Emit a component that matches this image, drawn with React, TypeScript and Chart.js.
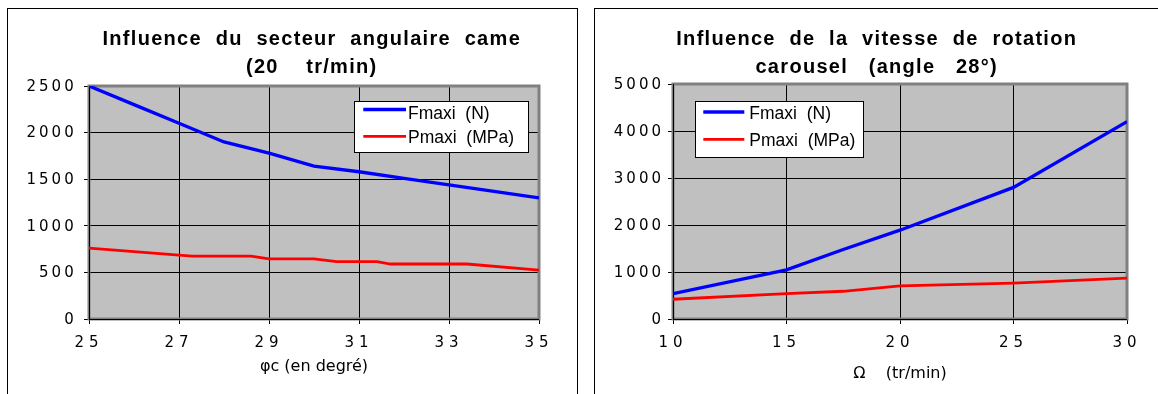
import React, { useEffect, useRef } from 'react';
import { Chart, registerables, LinearScale } from 'chart.js';

Chart.register(...registerables);

// ---------------- data ----------------
const seriesLabels = ['Fmaxi  (N)', 'Pmaxi  (MPa)'];

// left chart: influence of cam angular sector (20 tr/min)
const angleFmaxiX = [25, 26, 27, 28, 29, 30, 31, 32, 33, 34, 35];
const angleFmaxi = [2500, 2300, 2100, 1900, 1780, 1640, 1580, 1510, 1440, 1370, 1300];
const anglePmaxiX = [25, 27, 27.3, 28.6, 29, 30, 30.5, 31.4, 31.7, 33.4, 35];
const anglePmaxi = [760, 685, 675, 675, 645, 645, 615, 615, 590, 590, 525];
const angleXTicks = [25, 27, 29, 31, 33, 35];
const angleYTicks = [0, 500, 1000, 1500, 2000, 2500];
const angleTitle = ['Influence  du  secteur  angulaire  came', '(20    tr/min)'];
const angleXTitle = 'φc (en degré)';

// right chart: influence of carousel rotation speed (angle 28°)
const speedX = [10, 15, 17.5, 20, 25, 30];
const speedFmaxi = [540, 1045, 1480, 1890, 2800, 4200];
const speedPmaxi = [420, 540, 590, 705, 765, 870];
const speedXTicks = [10, 15, 20, 25, 30];
const speedYTicks = [0, 1000, 2000, 3000, 4000, 5000];
const speedTitle = ['Influence  de  la  vitesse  de  rotation', 'carousel   (angle   28°)'];
const speedXTitle = 'Ω    (tr/min)';

// ---------------- styles ----------------
const TITLE_FONT = '"Liberation Sans", Arial, sans-serif';
const AXIS_FONT = '"DejaVu Sans", Verdana, sans-serif';
const BLUE = '#0000FF';
const RED = '#FF0000';
const TITLE_SPACING = '1.3px';
const X_TICK_SPACING = '5px';
const Y_TICK_SPACING = '3px';

class SpacedLinearScale extends (LinearScale as any) {
  _computeLabelArea() {
    return undefined;
  }
  drawLabels(chartArea: any) {
    const ctx = (this as any).ctx;
    ctx.save();
    ctx.letterSpacing = (this as any).isHorizontal() ? X_TICK_SPACING : Y_TICK_SPACING;
    super.drawLabels(chartArea);
    ctx.restore();
  }
  drawTitle() {
    const ctx = (this as any).ctx;
    ctx.save();
    ctx.letterSpacing = '0px';
    super.drawTitle();
    ctx.restore();
  }
}
(SpacedLinearScale as any).id = 'spacedLinear';
(SpacedLinearScale as any).defaults = (LinearScale as any).defaults;
Chart.register(SpacedLinearScale as any);

const plotAreaPlugin = {
  id: 'plotArea',
  beforeDraw(chart: any) {
    const { ctx, chartArea: a } = chart;
    ctx.save();
    ctx.fillStyle = '#C0C0C0';
    ctx.fillRect(a.left, a.top, a.right - a.left, a.bottom - a.top);
    ctx.restore();
    ctx.letterSpacing = TITLE_SPACING;
  },
  beforeDatasetsDraw(chart: any) {
    const { ctx, chartArea: a } = chart;
    ctx.save();
    ctx.strokeStyle = '#808080';
    ctx.lineWidth = 3;
    ctx.strokeRect(a.left, a.top, a.right - a.left, a.bottom - a.top);
    ctx.strokeStyle = '#000';
    ctx.lineWidth = 1;
    ctx.beginPath();
    const lx = Math.round(a.left) + 0.5;
    const by = Math.round(a.bottom) + 0.5;
    ctx.moveTo(lx, a.top);
    ctx.lineTo(lx, a.bottom);
    ctx.moveTo(a.left, by);
    ctx.lineTo(a.right, by);
    ctx.stroke();
    ctx.restore();
  },
  afterDraw(chart: any) {
    chart.ctx.letterSpacing = '0px';
  },
};

function makeLegendPlugin(lay: any) {
  return {
    id: 'boxLegend',
    afterDraw(chart: any) {
      const { ctx, chartArea: a } = chart;
      const bx = Math.round(a.left + lay.left);
      const by = Math.round(a.top + lay.top);
      ctx.save();
      ctx.letterSpacing = '0px';
      ctx.fillStyle = '#FFFFFF';
      ctx.fillRect(bx, by, lay.width, lay.height);
      ctx.strokeStyle = '#000';
      ctx.lineWidth = 1;
      ctx.strokeRect(bx + 0.5, by + 0.5, lay.width - 1, lay.height - 1);
      ctx.font = `17.5px ${TITLE_FONT}`;
      ctx.textAlign = 'left';
      ctx.textBaseline = 'alphabetic';
      chart.data.datasets.forEach((ds: any, i: number) => {
        const row = lay.rows[i];
        ctx.strokeStyle = ds.borderColor;
        ctx.lineWidth = ds.borderWidth;
        ctx.lineCap = 'butt';
        ctx.beginPath();
        ctx.moveTo(bx + lay.lineFrom, by + row.lineY);
        ctx.lineTo(bx + lay.lineTo, by + row.lineY);
        ctx.stroke();
        ctx.fillStyle = '#000';
        ctx.fillText(ds.label, bx + lay.textX, by + row.textY);
      });
      ctx.restore();
    },
  };
}

function buildConfig(p: any) {
  return {
    type: 'line',
    data: {
      datasets: [
        {
          label: seriesLabels[0],
          data: p.fX.map((x: number, i: number) => ({ x, y: p.f[i] })),
          borderColor: BLUE,
          backgroundColor: BLUE,
          borderWidth: 3.3,
          pointRadius: 0,
          pointHoverRadius: 0,
          tension: 0,
          fill: false,
        },
        {
          label: seriesLabels[1],
          data: p.pX.map((x: number, i: number) => ({ x, y: p.p[i] })),
          borderColor: RED,
          backgroundColor: RED,
          borderWidth: 2.8,
          pointRadius: 0,
          pointHoverRadius: 0,
          tension: 0,
          fill: false,
        },
      ],
    },
    options: {
      responsive: false,
      animation: false,
      devicePixelRatio: 1,
      events: [],
      layout: { padding: { left: p.padLeft, right: p.padRight, top: 0, bottom: 0 } },
      plugins: {
        legend: { display: false },
        tooltip: { enabled: false },
        title: {
          display: true,
          text: p.title,
          color: '#000',
          align: 'center',
          font: { family: TITLE_FONT, size: 20, weight: 'bold', lineHeight: 1.365 },
          padding: { top: 17.2, bottom: p.titlePadBottom },
        },
      },
      scales: {
        x: {
          type: 'spacedLinear',
          position: 'bottom',
          min: p.xTicks[0],
          max: p.xTicks[p.xTicks.length - 1],
          afterBuildTicks: (s: any) => {
            s.ticks = p.xTicks.map((v: number) => ({ value: v }));
          },
          afterFit: (s: any) => {
            s.height = 75;
          },
          ticks: {
            callback: (v: any) => String(v),
            font: { family: AXIS_FONT, size: 15 },
            color: '#000',
            padding: 10.5,
            maxRotation: 0,
            minRotation: 0,
            autoSkip: false,
          },
          grid: { color: '#000', lineWidth: 1, tickLength: 5, tickColor: '#000', drawTicks: true },
          border: { display: false },
          title: {
            display: true,
            text: p.xTitle,
            color: '#000',
            font: { family: AXIS_FONT, size: 16 },
            padding: { top: 0, bottom: p.xTitlePadBottom },
          },
        },
        y: {
          type: 'spacedLinear',
          position: 'left',
          min: p.yTicks[0],
          max: p.yTicks[p.yTicks.length - 1],
          afterBuildTicks: (s: any) => {
            s.ticks = p.yTicks.map((v: number) => ({ value: v }));
          },
          afterFit: (s: any) => {
            s.width = p.yWidth;
          },
          ticks: {
            callback: (v: any) => String(v),
            font: { family: AXIS_FONT, size: 15 },
            color: '#000',
            padding: p.yTickPad,
            labelOffset: 1,
            autoSkip: false,
          },
          grid: { color: '#000', lineWidth: 1, tickLength: 5, tickColor: '#000', drawTicks: true },
          border: { display: false },
        },
      },
    },
    plugins: [plotAreaPlugin, makeLegendPlugin(p.legend)],
  };
}

const leftConfig = () =>
  buildConfig({
    fX: angleFmaxiX,
    f: angleFmaxi,
    pX: anglePmaxiX,
    p: anglePmaxi,
    xTicks: angleXTicks,
    yTicks: angleYTicks,
    title: angleTitle,
    xTitle: angleXTitle,
    padLeft: 76.5,
    padRight: 37,
    yWidth: 4.5,
    yTickPad: 7.3,
    titlePadBottom: 5.2,
    xTitlePadBottom: 17.1,
    legend: {
      left: 265,
      top: 15,
      width: 175,
      height: 52,
      lineFrom: 9.3,
      lineTo: 52,
      textX: 54,
      rows: [
        { lineY: 8.5, textY: 18.3 },
        { lineY: 35.3, textY: 42.3 },
      ],
    },
  });

const rightConfig = () =>
  buildConfig({
    fX: speedX,
    f: speedFmaxi,
    pX: speedX,
    p: speedPmaxi,
    xTicks: speedXTicks,
    yTicks: speedYTicks,
    title: speedTitle,
    xTitle: speedXTitle,
    padLeft: 31.5,
    padRight: 31,
    yWidth: 46.5,
    yTickPad: 4,
    titlePadBottom: 3.2,
    xTitlePadBottom: 10.4,
    legend: {
      left: 22,
      top: 17,
      width: 169,
      height: 57,
      lineFrom: 8.3,
      lineTo: 49.3,
      textX: 54.3,
      rows: [
        { lineY: 11, textY: 18.3 },
        { lineY: 38.3, textY: 45 },
      ],
    },
  });

function ChartCanvas({ build, width, height }: { build: () => any; width: number; height: number }) {
  const ref = useRef<HTMLCanvasElement>(null);
  useEffect(() => {
    const chart = new Chart(ref.current as HTMLCanvasElement, build());
    return () => chart.destroy();
  }, [build]);
  return <canvas ref={ref} width={width} height={height} style={{ display: 'block', width, height }} />;
}

export default function App() {
  return (
    <div
      style={{
        position: 'fixed',
        left: 0,
        top: 0,
        width: 1158,
        height: 394,
        overflow: 'hidden',
        background: '#fff',
      }}
    >
      <div
        style={{
          position: 'absolute',
          left: 7,
          top: 8,
          width: 569,
          height: 400,
          border: '1px solid #000',
        }}
      >
        <ChartCanvas build={leftConfig} width={568} height={385} />
      </div>
      <div
        style={{
          position: 'absolute',
          left: 594,
          top: 8,
          width: 600,
          height: 400,
          border: '1px solid #000',
        }}
      >
        <ChartCanvas build={rightConfig} width={563} height={385} />
      </div>
    </div>
  );
}
